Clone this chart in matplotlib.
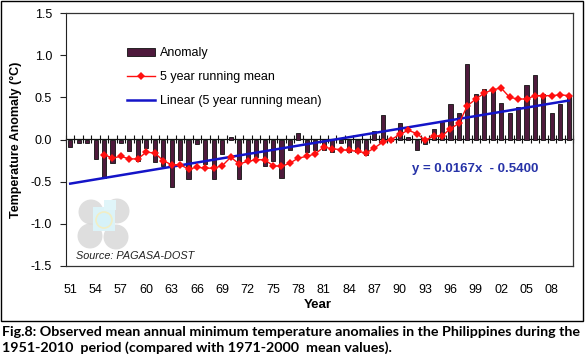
import numpy as np
import matplotlib
matplotlib.use('Agg')
import matplotlib.pyplot as plt
from matplotlib.patches import Rectangle, Circle

plt.rcParams['font.family'] = ['Liberation Sans', 'DejaVu Sans']

# data
years = list(range(1951, 2011))
anomaly = [-0.09, -0.04, -0.04, -0.23, -0.46, -0.28, -0.04, -0.14, -0.26, -0.10,
           -0.27, -0.31, -0.56, -0.24, -0.47, -0.05, -0.29, -0.47, -0.17, 0.03,
           -0.47, -0.25, -0.21, -0.32, -0.25, -0.46, -0.12, 0.08, -0.15, -0.13,
           -0.13, -0.15, -0.04, -0.15, -0.15, -0.18, 0.10, 0.29, -0.02, 0.19,
           0.03, -0.12, -0.05, 0.13, 0.21, 0.42, 0.31, 0.90, 0.54, 0.60,
           0.59, 0.43, 0.31, 0.39, 0.65, 0.77, 0.54, 0.31, 0.42, 0.52]
running_mean = [np.nan, np.nan, np.nan, np.nan,
                -0.18, -0.22, -0.20, -0.23, -0.23, -0.15, -0.16, -0.25, -0.30, -0.30,
                -0.35, -0.33, -0.34, -0.34, -0.31, -0.21, -0.29, -0.26, -0.24, -0.24,
                -0.31, -0.32, -0.28, -0.22, -0.20, -0.17,
                -0.09, -0.11, -0.12, -0.13, -0.14, -0.16, -0.10, -0.03, 0.00, 0.06,
                0.11, 0.07, -0.01, 0.04, 0.04, 0.13, 0.19, 0.40, 0.48, 0.55,
                0.59, 0.61, 0.50, 0.48, 0.48, 0.52, 0.52, 0.52, 0.53, 0.52]
trend_slope = 0.0167
trend_intercept = -0.5400
year_labels = ['%02d' % (y % 100) for y in years]

W, H = 585, 357
fig = plt.figure(figsize=(W / 100, H / 100), dpi=100)
ax = fig.add_axes([66 / W, 1 - 266 / H, 507 / W, 253 / H])

idx = np.arange(len(years))
bars = ax.bar(idx, anomaly, width=0.48, color='#4e1a3c', edgecolor='#111111',
              linewidth=0.6, label='Anomaly', zorder=2)
rm, = ax.plot(idx, running_mean, color='#ff1010', lw=1.0, marker='D', markersize=4.2,
              markeredgewidth=0, label='5 year running mean', zorder=4)
tr, = ax.plot(idx, trend_slope * (idx + 1) + trend_intercept, color='#1414c8', lw=1.8,
              label='Linear (5 year running mean)', zorder=3)

ax.set_xlim(-0.5, len(years) - 0.5)
ax.set_ylim(-1.5, 1.5)
ax.set_yticks(np.arange(-1.5, 1.51, 0.5))
ax.set_yticklabels(['%.1f' % v for v in np.arange(-1.5, 1.51, 0.5)])
ax.tick_params(axis='y', direction='out', length=4, pad=6, labelsize=9, color='#222222')
ax.set_xticks(idx[::3])
ax.set_xticklabels(year_labels[::3])
ax.tick_params(axis='x', length=0, pad=13, labelsize=9)
for s in ['top', 'right', 'bottom']:
    ax.spines[s].set_color('#333333')
    ax.spines[s].set_linewidth(0.9)
ax.spines['left'].set_color('#222222')

# zero line with category tick marks
zero = ax.secondary_xaxis(0.5)
zero.set_xticks(np.arange(-0.5, len(years), 1))
zero.tick_params(axis='x', direction='inout', length=6, width=0.8, labeltop=False,
                 labelbottom=False, color='#111111')
zero.spines['top'].set_color('#111111')
zero.spines['top'].set_linewidth(0.9)

ax.legend([bars, rm, tr], ['Anomaly', '5 year running mean', 'Linear (5 year running mean)'],
          loc='upper left', bbox_to_anchor=(121 / W, 1 - 41 / H),
          bbox_transform=fig.transFigure, frameon=False, fontsize=9,
          borderpad=0, labelspacing=0.95, handlelength=2.2, handletextpad=0.45)

ov = fig.add_axes([0, 0, 1, 1], zorder=5)
ov.set_xlim(0, W)
ov.set_ylim(H, 0)
ov.axis('off')
ov.patch.set_alpha(0)

ov.text(475, 169, 'y = 0.0167x  - 0.5400', color='#2733a8', fontsize=9.5,
        fontweight='bold', ha='center', va='center')

# faded logo
for (cx, cy) in [(91, 212), (117, 211), (90, 236), (116, 237)]:
    ov.add_patch(Circle((cx, cy), 12.5, color='#d4d4d4', alpha=0.75, lw=0))
ov.add_patch(Rectangle((93, 207), 22, 24, color='#dcf3f8', lw=0))
ov.add_patch(Rectangle((104, 200), 12, 10, color='#e0f5f9', lw=0))
ov.add_patch(Circle((104, 220), 8, facecolor='#d6f2f8', edgecolor='#f2eec4', lw=1.2))
ov.text(76, 256, 'Source: PAGASA-DOST', fontsize=7.8, style='italic',
        color='#222222', ha='left', va='center')

ov.text(16, 140, 'Temperature Anomaly (\u00b0C)', rotation=90, fontsize=9,
        fontweight='bold', ha='center', va='center')
ov.text(318, 305, 'Year', fontsize=9.5, fontweight='bold', ha='center', va='center')

ov.add_patch(Rectangle((0.5, 0.5), 582, 320, fill=False, edgecolor='black', lw=1.0))

cap1 = ov.text(2, 332, 'Fig.8: Observed mean annual minimum temperature anomalies in the Philippines during the',
               fontsize=9.2, fontweight='bold', family=['Lato', 'DejaVu Sans'],
               ha='left', va='center')
cap2 = ov.text(2, 348, '1951-2010  period (compared with 1971-2000  mean values).',
               fontsize=9.2, fontweight='bold', family=['Lato', 'DejaVu Sans'],
               ha='left', va='center')
# fit caption width to the frame
fig.canvas.draw()
w = cap1.get_window_extent().width
fs = 9.2 * 580 / w
cap1.set_fontsize(fs)
cap2.set_fontsize(fs)

fig.savefig('out.png', dpi=100)
